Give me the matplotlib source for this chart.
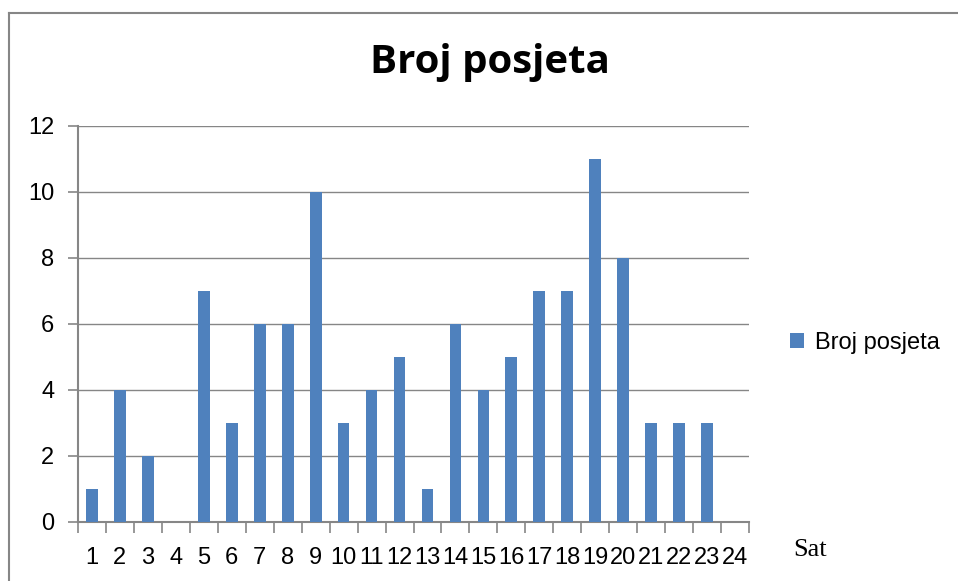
import numpy as np
import matplotlib
matplotlib.use("Agg")
import matplotlib.pyplot as plt
from matplotlib.lines import Line2D

# ── data ──────────────────────────────────────────────────────────────────────
sati = [str(h) for h in range(1, 25)]
posjete = [1, 4, 2, 0, 7, 3, 6, 6, 10, 3, 4, 5, 1, 6, 4, 5, 7, 7, 11, 8, 3, 3, 3, 0]
y_ticks = [0, 2, 4, 6, 8, 10, 12]

BAR = "#4F81BD"
GREY = "#868686"

fig = plt.figure(figsize=(9.58, 5.81), dpi=100)
ax = fig.add_axes([78 / 958, 1 - 522 / 581, (749 - 78) / 958, (522 - 126) / 581])

x = np.arange(len(sati))
ax.bar(x, posjete, width=0.42, color=BAR, zorder=3, label="Broj posjeta")

ax.set_xlim(-0.5, len(sati) - 0.5)
ax.set_ylim(0, 12)
ax.set_yticks(y_ticks)
ax.set_yticklabels([str(v) for v in y_ticks], fontsize=17, family="Liberation Sans")
ax.yaxis.grid(True, color=GREY, linewidth=1, zorder=0)

# kategorije: oznake u sredini, crtice na granicama
ax.set_xticks(x)
ax.set_xticklabels(sati, fontsize=17, family="Liberation Sans")
ax.set_xticks(np.arange(-0.5, len(sati)), minor=True)
ax.tick_params(axis="x", which="major", length=0, pad=18)
ax.tick_params(axis="x", which="minor", length=8, color=GREY, width=1.2)
ax.tick_params(axis="y", length=7, color=GREY, width=1.2, pad=10)

for s in ("top", "right"):
    ax.spines[s].set_visible(False)
for s in ("left", "bottom"):
    ax.spines[s].set_color(GREY)
    ax.spines[s].set_linewidth(1.5)

fig.text(490 / 958, 1 - 63 / 581, "Broj posjeta", ha="center", va="center",
         fontsize=29, fontweight="bold", family="Open Sans")
fig.text(810 / 958, 1 - 550 / 581, "Sat", ha="center", va="center",
         fontsize=19, family="Liberation Serif")

fig.legend(*ax.get_legend_handles_labels(), loc="center left",
           bbox_to_anchor=(790 / 958, 1 - 343 / 581), frameon=False,
           prop={"family": "Liberation Sans", "size": 17},
           handlelength=0.6, handleheight=0.6, handletextpad=0.45,
           borderaxespad=0, borderpad=0)

# okvir grafikona
fig.add_artist(Line2D([9 / 958, 9 / 958], [0, 1 - 13 / 581],
                      transform=fig.transFigure, color=GREY, linewidth=1.5))
fig.add_artist(Line2D([9 / 958, 1], [1 - 13 / 581, 1 - 13 / 581],
                      transform=fig.transFigure, color=GREY, linewidth=1.5))

fig.savefig("out.png", dpi=100)
